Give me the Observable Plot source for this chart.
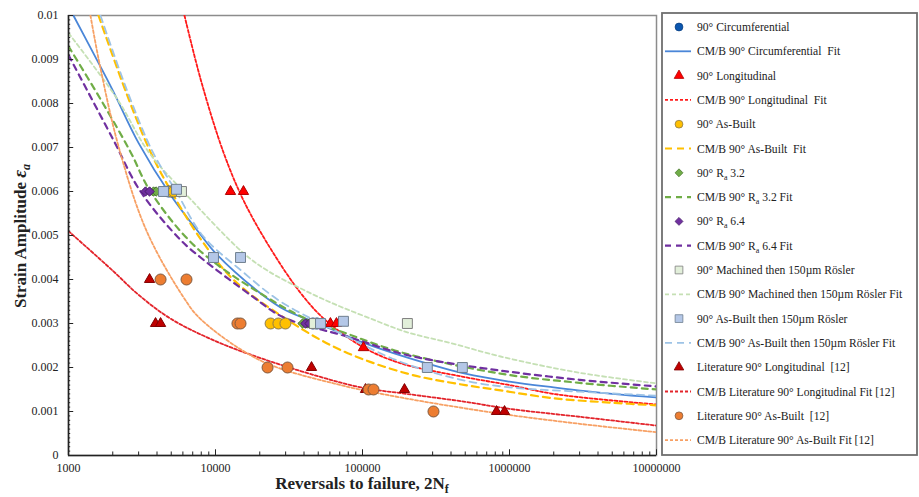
<!DOCTYPE html>
<html><head><meta charset="utf-8">
<script src="https://cdn.jsdelivr.net/npm/d3@7"></script>
<script src="https://cdn.jsdelivr.net/npm/@observablehq/plot@0.6"></script>
<style>body{margin:0;background:#fff}#chart{width:919px;height:497px}</style>
</head><body><div id="chart"></div>
<script>
// ---- tick values ----
const xTicks = [1000, 10000, 100000, 1000000, 10000000];
const yTicks = [0, 0.001, 0.002, 0.003, 0.004, 0.005, 0.006, 0.007, 0.008, 0.009, 0.01];

// ---- measured points [2Nf, strain amplitude] ----
const circPts = [[4800,0.006],[5100,0.006],[46000,0.003],[49000,0.003]];
const longPts = [[12650,0.006],[15500,0.006],[60500,0.003],[66500,0.003],[101500,0.00245]];
const asBuiltPts = [[5000,0.006],[5200,0.006],[23700,0.003],[26800,0.003],[29900,0.003]];
const ra32Pts = [[3790,0.006],[3950,0.006],[39100,0.003],[42000,0.003]];
const ra64Pts = [[3340,0.006],[3560,0.006],[40900,0.003],[43600,0.003]];
const machRoslerPts = [[5870,0.006],[47100,0.003],[202000,0.003]];
const abRoslerPts = [[4430,0.006],[5430,0.00605],[9690,0.0045],[14800,0.0045],[51800,0.003],[74200,0.00305],[276000,0.002],[478000,0.002]];
const litLongPts = [[3560,0.004],[3910,0.003],[4230,0.003],[45000,0.002],[104800,0.0015],[193000,0.0015],[816000,0.001],[925000,0.001]];
const litABPts = [[4230,0.004],[6350,0.004],[14100,0.003],[14800,0.003],[22600,0.002],[30900,0.002],[110000,0.0015],[118800,0.0015],[304000,0.001]];

// ---- CM/B fit curves ----
const circFit = [[1080,0.01],[1500,0.0091],[2000,0.0083],[3000,0.0071],[5000,0.0059],[8000,0.0050],[10000,0.0046],[20000,0.0037],[30000,0.0033],[50000,0.0030],[100000,0.00257],[200000,0.00223],[500000,0.00186],[1000000,0.00168],[2000000,0.00155],[5000000,0.0014],[10000000,0.00132]];
const longFit = [[6150,0.01],[8000,0.0085],[11300,0.0069],[15500,0.0058],[23700,0.0047],[37800,0.0037],[55000,0.0031],[100000,0.00247],[180000,0.0021],[500000,0.00178],[1000000,0.0016],[2000000,0.0014],[5000000,0.00125],[10000000,0.00116]];
const asBuiltFit = [[1600,0.01],[2500,0.0082],[3610,0.0069],[5000,0.0060],[8000,0.0049],[13200,0.0040],[29000,0.00314],[70800,0.0024],[202000,0.00186],[500000,0.0016],[870000,0.00148],[2000000,0.0013],[5000000,0.0012],[10000000,0.00114]];
const ra32Fit = [[1000,0.0093],[1650,0.0081],[2640,0.0069],[3610,0.0060],[7550,0.0047],[24900,0.0035],[42000,0.0031],[74000,0.0028],[181000,0.00235],[870000,0.00186],[3000000,0.00165],[10000000,0.0015]];
const ra64Fit = [[1000,0.0091],[2000,0.0072],[3090,0.0060],[5780,0.0049],[7920,0.0045],[18100,0.0036],[29000,0.00314],[83000,0.00268],[181000,0.00232],[304000,0.00216],[870000,0.00193],[3000000,0.00172],[10000000,0.00157]];
const machRoslerFit = [[1000,0.0096],[2150,0.0081],[3500,0.0069],[6050,0.0060],[15500,0.0046],[22600,0.0042],[37800,0.0038],[63500,0.00345],[108000,0.00314],[202000,0.0028],[404000,0.00255],[870000,0.00225],[3000000,0.00188],[10000000,0.00164]];
const abRoslerFit = [[1650,0.01],[2500,0.0083],[3740,0.0069],[5400,0.0060],[8170,0.0050],[15000,0.0042],[27700,0.0035],[60000,0.0029],[181000,0.00213],[500000,0.0017],[1000000,0.00155],[3000000,0.00145],[10000000,0.00136]];
const litLongFit = [[1000,0.0051],[2000,0.0042],[3000,0.00365],[5000,0.0031],[10000,0.0026],[20000,0.00222],[50000,0.0018],[100000,0.00154],[200000,0.0014],[500000,0.00122],[1000000,0.00106],[3000000,0.00088],[10000000,0.00068]];
const litABFit = [[1410,0.01],[1650,0.0088],[2200,0.0070],[3400,0.0051],[6050,0.0036],[7920,0.0031],[20200,0.00216],[63500,0.00164],[181000,0.00132],[870000,0.00095],[3000000,0.00072],[10000000,0.00053]];

// ---- legend labels ----
const legendLabels = [
  "90° Circumferential", "CM/B 90° Circumferential  Fit",
  "90° Longitudinal", "CM/B 90° Longitudinal  Fit",
  "90° As-Built", "CM/B 90° As-Built  Fit",
  "90° R_a 3.2", "CM/B 90° R_a 3.2 Fit",
  "90° R_a 6.4", "CM/B 90° R_a 6.4 Fit",
  "90° Machined then 150µm Rösler", "CM/B 90° Machined then 150µm Rösler Fit",
  "90° As-Built then 150µm Rösler", "CM/B 90° As-Built then 150µm Rösler Fit",
  "Literature 90° Longitudinal  [12]", "CM/B Literature 90° Longitudinal Fit [12]",
  "Literature 90° As-Built  [12]", "CM/B Literature 90° As-Built Fit [12]"
];

// ---- styles ----
const C = {
  circ: "#0b57b0", circFit: "#4a86d8",
  long: "#ff0000", longFit: "#ff1a1a",
  ab: "#ffc000", abFit: "#ffc000",
  ra32: "#70ad47", ra64: "#7030a0",
  mach: "#e2efda", machFit: "#c5e0b4",
  abr: "#b4c7e7", abrFit: "#9dc3e6",
  litLong: "#c00000", litLongFit: "#e3242b",
  litAB: "#ed7d31", litABFit: "#f7a064"
};
const pointSeries = [
  {d: circPts, sym: "circle", r: 5.5, fill: C.circ, stroke: "#0a3f80"},
  {d: longPts, sym: "triangle", r: 3.8, fill: C.long, stroke: "#b00000"},
  {d: asBuiltPts, sym: "circle", r: 5.5, fill: C.ab, stroke: "#8a7a50"},
  {d: ra32Pts, sym: "diamond2", r: 4.2, fill: C.ra32, stroke: "#4e7a32"},
  {d: ra64Pts, sym: "diamond2", r: 4.2, fill: C.ra64, stroke: "#4a1f6b"},
  {d: machRoslerPts, sym: "square", r: 5.6, fill: C.mach, stroke: "#7f7f7f"},
  {d: abRoslerPts, sym: "square", r: 5.6, fill: C.abr, stroke: "#6f7f8f"},
  {d: litLongPts, sym: "triangle", r: 3.8, fill: C.litLong, stroke: "#800000"},
  {d: litABPts, sym: "circle", r: 5.5, fill: C.litAB, stroke: "#7f5a40"}
];
const fitSeries = [
  {d: circFit, stroke: C.circFit, w: 1.8, dash: null},
  {d: longFit, stroke: C.longFit, w: 1.8, dash: "3,2"},
  {d: asBuiltFit, stroke: C.abFit, w: 2.2, dash: "7,5"},
  {d: ra32Fit, stroke: C.ra32, w: 2.2, dash: "6,5"},
  {d: ra64Fit, stroke: C.ra64, w: 2.2, dash: "6,5"},
  {d: machRoslerFit, stroke: C.machFit, w: 1.8, dash: "4,3"},
  {d: abRoslerFit, stroke: C.abrFit, w: 1.8, dash: "7,5"},
  {d: litLongFit, stroke: C.litLongFit, w: 1.8, dash: "3,2"},
  {d: litABFit, stroke: C.litABFit, w: 1.8, dash: "3,2"}
];

const xMinor = [];
for (const p of [1e3, 1e4, 1e5, 1e6]) for (let k = 2; k <= 9; k++) xMinor.push(k * p);
const yMinor = d3.range(0, 101).map(i => i / 10000);

const marks = [
  Plot.frame({stroke: "#8c8c8c", strokeWidth: 1.5}),
  ...fitSeries.map(s => Plot.line(s.d, {x: d => d[0], y: d => d[1], stroke: s.stroke, strokeWidth: s.w, strokeDasharray: s.dash, curve: "catmull-rom", clip: true})),
  ...pointSeries.map(s => Plot.dot(s.d, {x: d => d[0], y: d => d[1], symbol: s.sym, r: s.r, fill: s.fill, stroke: s.stroke, strokeWidth: 1})),
  Plot.ruleX([1000], {stroke: "#222", strokeWidth: 1.5}),
  Plot.ruleY([0], {stroke: "#222", strokeWidth: 1.5}),
  Plot.ruleX(xTicks, {y1: 0, y2: 0.00013, stroke: "#222"}),
  Plot.ruleX(xMinor, {y1: 0, y2: 0.00008, stroke: "#222"}),
  Plot.ruleY(yMinor, {x1: 1000, x2: 1035, stroke: "#222"}),
  Plot.ruleY(yTicks, {x1: 1000, x2: 1085, stroke: "#222"}),
  Plot.axisX({ticks: xTicks, tickFormat: d3.format("d"), tickSize: 0, tickPadding: 8, label: null}),
  Plot.axisY({ticks: yTicks, tickFormat: d => d === 0 ? "0" : d3.format("~g")(d), tickSize: 0, tickPadding: 10, label: null})
];

const plot = Plot.plot({
  width: 919, height: 497,
  marginLeft: 68, marginRight: 263, marginTop: 15, marginBottom: 42,
  style: {fontFamily: "'Liberation Serif', 'Times New Roman', serif", fontSize: "12px", background: "#fff", color: "#222"},
  x: {type: "log", domain: [1000, 10000000]},
  y: {domain: [0, 0.01]},
  marks
});
document.getElementById("chart").appendChild(plot);

// ---- axis titles and legend ----
const svg = d3.select(plot);
const serif = "'Liberation Serif', 'Times New Roman', serif";
const xl = svg.append("text").attr("x", 362).attr("y", 489).attr("text-anchor", "middle")
  .attr("font-family", serif).attr("font-size", 17).attr("font-weight", "bold").attr("fill", "#222");
xl.append("tspan").text("Reversals to failure, 2N");
xl.append("tspan").attr("font-size", 12).attr("dy", 4).text("f");

const yl = svg.append("text").attr("transform", "translate(26,236) rotate(-90)").attr("text-anchor", "middle")
  .attr("font-family", serif).attr("font-size", 17).attr("font-weight", "bold").attr("fill", "#222");
yl.append("tspan").text("Strain Amplitude ");
yl.append("tspan").attr("font-style", "italic").attr("font-size", 19).text("ε");
yl.append("tspan").attr("font-style", "italic").attr("font-size", 12).attr("dy", 4).text("a");

const lg = svg.append("g").attr("text-anchor", "start");
lg.append("rect").attr("x", 662).attr("y", 13).attr("width", 255).attr("height", 442)
  .attr("fill", "#fff").attr("stroke", "#6f6f6f").attr("stroke-width", 1.8);
const symMap = {circle: d3.symbolCircle, triangle: d3.symbolTriangle, diamond2: d3.symbolDiamond2, square: d3.symbolSquare};
legendLabels.forEach((lab, i) => {
  const y = 27 + i * 24.3;
  if (i % 2 === 0) {
    const s = pointSeries[i / 2];
    const area = s.sym === "circle" ? 48 : s.sym === "square" ? 60 : 40;
    lg.append("path").attr("d", d3.symbol(symMap[s.sym], area)())
      .attr("transform", `translate(679,${y})`).attr("fill", s.fill).attr("stroke", s.stroke).attr("stroke-width", 0.8);
  } else {
    const s = fitSeries[(i - 1) / 2];
    lg.append("line").attr("x1", 665).attr("x2", 691).attr("y1", y).attr("y2", y)
      .attr("stroke", s.stroke).attr("stroke-width", s.w).attr("stroke-dasharray", s.dash);
  }
  const t = lg.append("text").attr("x", 697).attr("y", y + 4).attr("text-anchor", "start")
    .attr("font-family", serif).attr("font-size", 11.6).attr("fill", "#222");
  const parts = lab.split("_a");
  t.append("tspan").text(parts[0]);
  if (parts.length > 1) {
    t.append("tspan").attr("font-size", 8).attr("dy", 3).text("a");
    t.append("tspan").attr("dy", -3).text(parts[1]);
  }
});
</script>
</body></html>
